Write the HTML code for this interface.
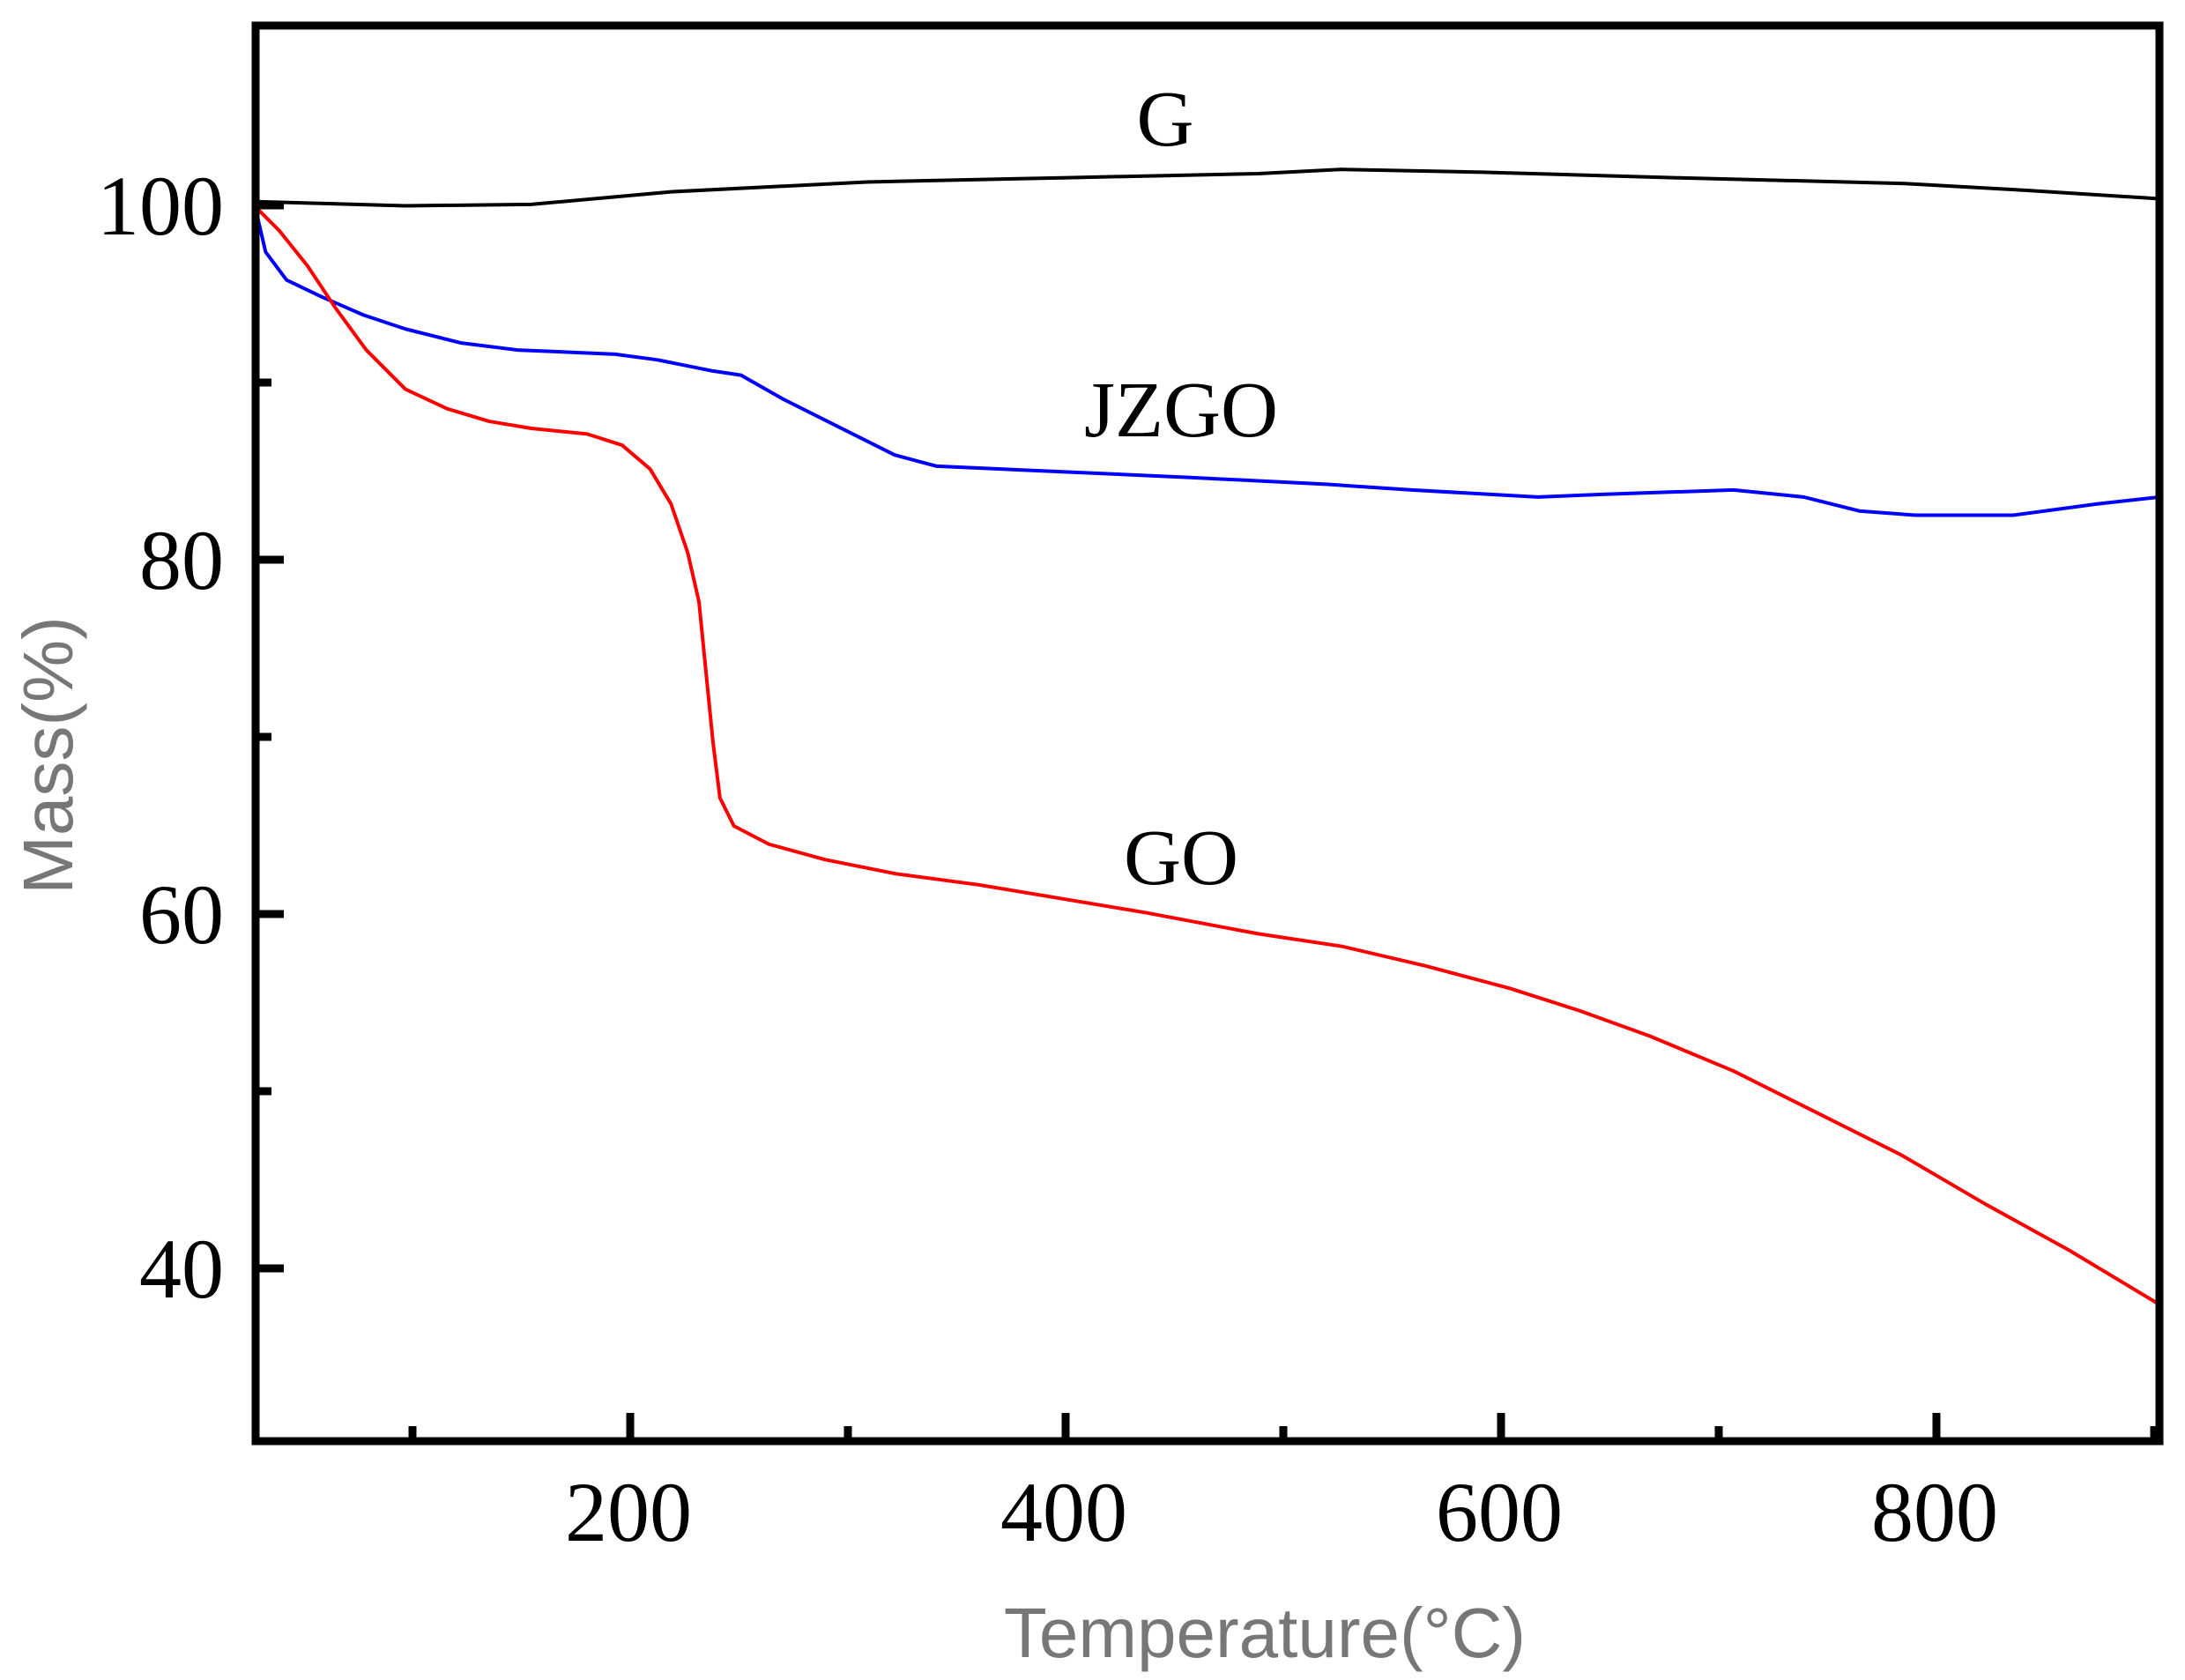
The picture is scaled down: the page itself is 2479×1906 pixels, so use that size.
<!DOCTYPE html>
<html><head><meta charset="utf-8"><style>
html,body{margin:0;padding:0;background:#fff;}
svg{display:block;}
</style></head><body>
<svg width="2479" height="1906" viewBox="0 0 2479 1906" xmlns="http://www.w3.org/2000/svg">
<rect width="2479" height="1906" fill="#fff"/>
<g transform="scale(1.5861,1.5883)" fill="none" stroke-linejoin="round">
<polyline stroke="#000" stroke-width="4" vector-effect="non-scaling-stroke" points="183,144 290,147 380,146 480,137 620,130 760,127 900,124 960,121 1060,123 1200,127 1360,131 1450,136 1545,142"/>
<polyline stroke="#0000ff" stroke-width="4" vector-effect="non-scaling-stroke" points="183,150 190,180 205,200 230,212 260,225 290,235 330,245 370,250 440,253 470,257 510,265 530,268 560,285 600,305 640,325 670,333 760,337 850,341 950,346 1010,350 1100,355 1150,353 1240,350 1290,355 1330,365 1370,368 1440,368 1500,360 1545,355"/>
<polyline stroke="#ff0000" stroke-width="4" vector-effect="non-scaling-stroke" points="183,148 200,165 220,190 240,220 262,250 290,278 320,292 350,301 380,306 420,310 445,318 465,335 480,360 492,395 500,430 505,480 510,530 515,570 525,590 550,603 590,614 640,624 700,632 760,642 820,652 900,667 960,676 1020,690 1080,706 1130,722 1180,740 1240,765 1300,795 1360,825 1420,860 1480,893 1545,932"/>
</g>
<rect x="290" y="29" width="2160" height="1606" fill="none" stroke="#000" stroke-width="9"/>
<g stroke="#000" stroke-width="9">
<line x1="290" y1="233" x2="322" y2="233"/>
<line x1="290" y1="635" x2="322" y2="635"/>
<line x1="290" y1="1037" x2="322" y2="1037"/>
<line x1="290" y1="1439" x2="322" y2="1439"/>
<line x1="290" y1="434" x2="308" y2="434"/>
<line x1="290" y1="836" x2="308" y2="836"/>
<line x1="290" y1="1238" x2="308" y2="1238"/>
<line x1="715" y1="1635" x2="715" y2="1603"/>
<line x1="1209" y1="1635" x2="1209" y2="1603"/>
<line x1="1703" y1="1635" x2="1703" y2="1603"/>
<line x1="2197" y1="1635" x2="2197" y2="1603"/>
<line x1="468" y1="1635" x2="468" y2="1618"/>
<line x1="962" y1="1635" x2="962" y2="1618"/>
<line x1="1456" y1="1635" x2="1456" y2="1618"/>
<line x1="1950" y1="1635" x2="1950" y2="1618"/>
<line x1="2444" y1="1635" x2="2444" y2="1618"/>
</g>
<g font-family="Liberation Serif, serif" font-size="96" fill="#000">
<text x="254" y="266" text-anchor="end">100</text>
<text x="254" y="668" text-anchor="end">80</text>
<text x="254" y="1070" text-anchor="end">60</text>
<text x="254" y="1472" text-anchor="end">40</text>
<text x="713" y="1748" text-anchor="middle">200</text>
<text x="1207" y="1748" text-anchor="middle">400</text>
<text x="1701" y="1748" text-anchor="middle">600</text>
<text x="2195" y="1748" text-anchor="middle">800</text>
</g>
<g font-family="Liberation Serif, serif" font-size="90" fill="#000">
<text x="1322" y="165" text-anchor="middle">G</text>
<text x="1340" y="495" text-anchor="middle">JZGO</text>
<text x="1340" y="1003" text-anchor="middle">GO</text>
</g>
<g font-family="Liberation Sans, sans-serif" font-size="80" fill="#777">
<text x="1435" y="1880" text-anchor="middle">Temperature(°C)</text>
<text transform="translate(82,857) rotate(-90)" text-anchor="middle">Mass(%)</text>
</g>
</svg>
</body></html>
